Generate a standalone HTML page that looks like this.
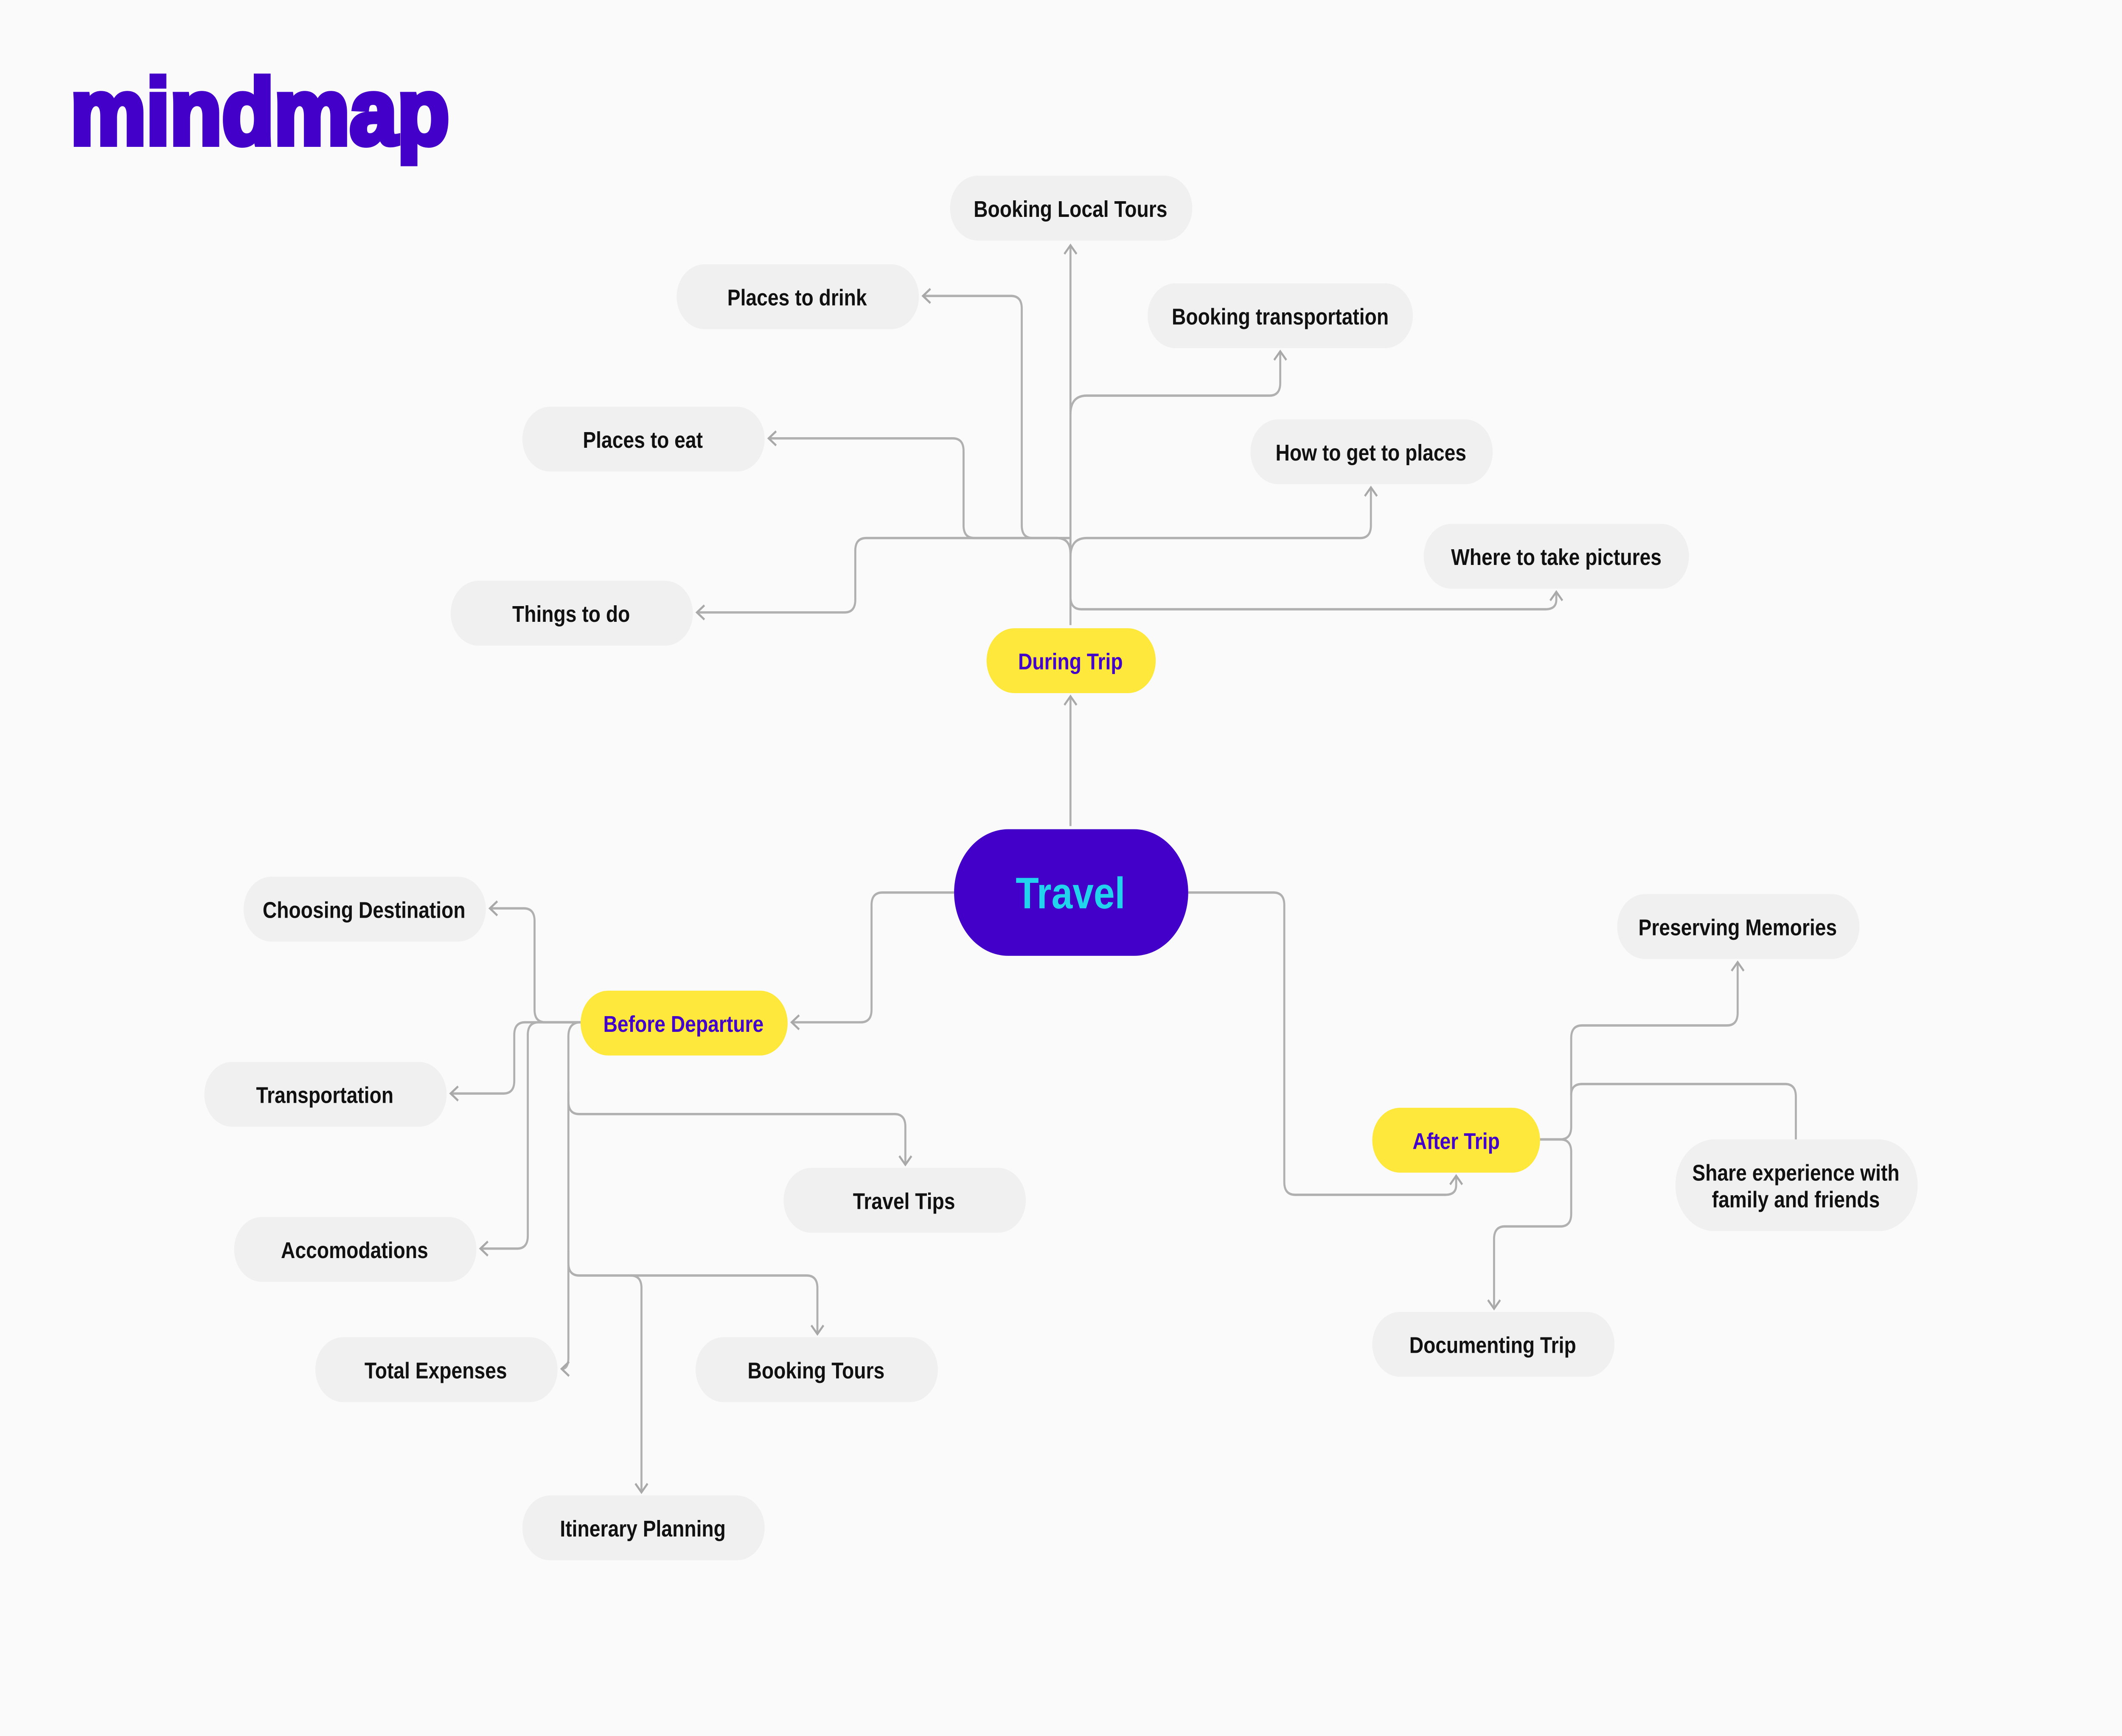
<!DOCTYPE html>
<html><head><meta charset="utf-8"><style>
html,body{margin:0;padding:0;background:#fafafa;width:100%;height:100%;overflow:hidden;}
svg{display:block;width:100vw;height:100vh;}
text{font-family:"Liberation Sans",sans-serif;}
</style></head><body>
<svg viewBox="0 0 1568 1097" preserveAspectRatio="none" xmlns="http://www.w3.org/2000/svg">
<defs>
<marker id="a" viewBox="0 0 12 12" refX="10.5" refY="6" markerWidth="12" markerHeight="12" markerUnits="userSpaceOnUse" orient="auto">
<path d="M5,1.5 L10.5,6 L5,10.5" fill="none" stroke="#a8a8a8" stroke-width="1.4"/>
</marker>
</defs>
<rect width="1568" height="1097" fill="#fafafa"/>
<text x="52" y="89" font-size="50" font-weight="bold" fill="#4200c8" stroke="#4200c8" stroke-width="3" textLength="280" lengthAdjust="spacingAndGlyphs" transform="translate(0,-14) scale(1,1.18)">mindmap</text>

<g fill="none" stroke="#b0b0b0" stroke-width="1.5" marker-end="url(#a)">
<path d="M791,522 V440"/>
<path d="M791,395 V155"/>
<path d="M791,262 Q791,250 803,250 H938 Q946,250 946,242 V222"/>
<path d="M791,352 Q791,340 803,340 H1005 Q1013,340 1013,332 V308"/>
<path d="M791,350 V377 Q791,385 799,385 H1142 Q1150,385 1150,379 V374"/>
<path d="M791,350 Q791,340 781,340 H763 Q755,340 755,332 V195 Q755,187 747,187 H682"/>
<path d="M791,340 H720 Q712,340 712,332 V285 Q712,277 704,277 H568"/>
<path d="M791,350 Q791,340 781,340 H640 Q632,340 632,348 V379 Q632,387 624,387 H515"/>
<path d="M705,564 H652 Q644,564 644,572 V638 Q644,646 636,646 H585"/>
<path d="M878,564 H941 Q949,564 949,572 V747 Q949,755 957,755 H1068 Q1076,755 1076,749 V743"/>
<path d="M429,646 H403 Q395,646 395,638 V582 Q395,574 387,574 H362"/>
<path d="M429,646 H388 Q380,646 380,654 V683 Q380,691 372,691 H333"/>
<path d="M429,646 H398 Q390,646 390,654 V781 Q390,789 382,789 H355"/>
<path d="M429,646 Q420,646 420,655 V858 Q420,865 415,865"/>
<path d="M420,690 V696 Q420,704 428,704 H661 Q669,704 669,712 V736"/>
<path d="M420,790 V798 Q420,806 428,806 H596 Q604,806 604,814 V843"/>
<path d="M466,806 Q474,806 474,814 V943"/>
<path d="M1138,720 H1153 Q1161,720 1161,712 V656 Q1161,648 1169,648 H1276 Q1284,648 1284,640 V608"/>
<path d="M1161,692 Q1161,685 1169,685 H1319 Q1327,685 1327,693 V730"/>
<path d="M1138,720 H1153 Q1161,720 1161,728 V767 Q1161,775 1153,775 H1112 Q1104,775 1104,783 V827"/>
</g>

<g fill="#f0f0f0">
<rect x="702" y="111" width="179" height="41" rx="20.5"/>
<rect x="500" y="167" width="179" height="41" rx="20.5"/>
<rect x="848" y="179" width="196" height="41" rx="20.5"/>
<rect x="386" y="257" width="179" height="41" rx="20.5"/>
<rect x="924" y="265" width="179" height="41" rx="20.5"/>
<rect x="1052" y="331" width="196" height="41" rx="20.5"/>
<rect x="333" y="367" width="179" height="41" rx="20.5"/>
<rect x="180" y="554" width="179" height="41" rx="20.5"/>
<rect x="151" y="671" width="179" height="41" rx="20.5"/>
<rect x="579" y="738" width="179" height="41" rx="20.5"/>
<rect x="173" y="769" width="179" height="41" rx="20.5"/>
<rect x="233" y="845" width="179" height="41" rx="20.5"/>
<rect x="514" y="845" width="179" height="41" rx="20.5"/>
<rect x="386" y="945" width="179" height="41" rx="20.5"/>
<rect x="1195" y="565" width="179" height="41" rx="20.5"/>
<rect x="1238" y="720" width="179" height="58" rx="29"/>
<rect x="1014" y="829" width="179" height="41" rx="20.5"/>
</g>
<g fill="#ffe83c">
<rect x="729" y="397" width="125" height="41" rx="20.5"/>
<rect x="429" y="626" width="153" height="41" rx="20.5"/>
<rect x="1014" y="700" width="124" height="41" rx="20.5"/>
</g>
<rect x="705" y="524" width="173" height="80" rx="40" fill="#4200c8"/>

<g font-size="14.5" font-weight="bold" fill="#111" text-anchor="middle">
<text x="791" y="137">Booking Local Tours</text>
<text x="589" y="193">Places to drink</text>
<text x="946" y="205">Booking transportation</text>
<text x="475" y="283">Places to eat</text>
<text x="1013" y="291">How to get to places</text>
<text x="1150" y="357">Where to take pictures</text>
<text x="422" y="393">Things to do</text>
<text x="269" y="580">Choosing Destination</text>
<text x="240" y="697">Transportation</text>
<text x="668" y="764">Travel Tips</text>
<text x="262" y="795">Accomodations</text>
<text x="322" y="871">Total Expenses</text>
<text x="603" y="871">Booking Tours</text>
<text x="475" y="971">Itinerary Planning</text>
<text x="1284" y="591">Preserving Memories</text>
<text x="1327" y="746">Share experience with</text>
<text x="1327" y="763">family and friends</text>
<text x="1103" y="855">Documenting Trip</text>
</g>
<g font-size="14.5" font-weight="bold" fill="#4200c8" text-anchor="middle">
<text x="791" y="423">During Trip</text>
<text x="505" y="652">Before Departure</text>
<text x="1076" y="726">After Trip</text>
</g>
<text x="791" y="574" font-size="28" font-weight="bold" fill="#22d3ee" text-anchor="middle">Travel</text>
</svg>
</body></html>
